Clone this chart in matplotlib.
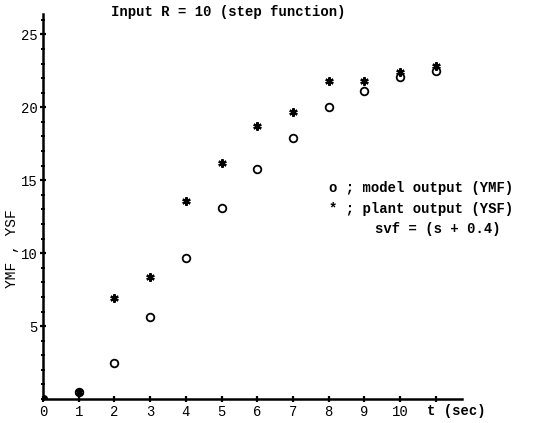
import matplotlib.pyplot as plt
from matplotlib.ticker import MultipleLocator

t = [0, 1, 2, 3, 4, 5, 6, 7, 8, 9, 10, 11]
ymf = [0.0, 0.5, 2.5, 5.6, 9.7, 13.1, 15.8, 17.9, 20.05, 21.1, 22.1, 22.5]
ysf = [0.0, 0.5, 6.9, 8.4, 13.6, 16.2, 18.7, 19.7, 21.8, 21.8, 22.45, 22.8]
xtick_labels = ["0", "1", "2", "3", "4", "5", "6", "7", "8", "9", "10", ""]
yticks = [5, 10, 15, 20, 25]

mono = "Liberation Mono"

fig = plt.figure(figsize=(5.35, 4.23), dpi=100)
ax = fig.add_axes([43 / 535, 24 / 423, 419 / 535, 385 / 423])

ax.plot(t, ymf, linestyle="none", marker="o", markersize=5.5,
        markerfacecolor="white", markeredgecolor="black", markeredgewidth=1.3)
ax.plot(t, ysf, linestyle="none", marker=(6, 2, 0), markersize=6,
        color="black", markeredgewidth=1.6)

ax.set_xlim(0, 11.73)
ax.set_ylim(0, 26.4)
for s in ["top", "right"]:
    ax.spines[s].set_visible(False)
for s in ["left", "bottom"]:
    ax.spines[s].set_linewidth(1.8)

ax.set_xticks(t)
ax.set_xticklabels(xtick_labels, fontfamily=mono, fontsize=10)
ax.set_yticks(yticks)
ax.set_yticklabels([str(v) for v in yticks], fontfamily=mono, fontsize=10)
ax.yaxis.set_minor_locator(MultipleLocator(1))
ax.tick_params(axis="both", which="major", direction="inout", length=4,
               width=1.6, pad=2)
ax.tick_params(axis="y", which="minor", direction="inout", length=3, width=1.4)

ax.text(10.75, -0.35, "t (sec)", fontfamily=mono, fontsize=10,
        fontweight="bold", ha="left", va="top")
ax.set_ylabel("YMF , YSF", fontfamily=mono, fontsize=10.5, labelpad=2)
ax.yaxis.set_label_coords(-0.058, 0.39)

fig.text(0.426, 0.972, "Input R = 10 (step function)", fontfamily=mono,
         fontsize=10, fontweight="bold", ha="center", va="center")

ax.text(8.0, 14.5, "o ; model output (YMF)", fontfamily=mono, fontsize=10,
        fontweight="bold", va="center")
ax.text(8.0, 13.05, "* ; plant output (YSF)", fontfamily=mono, fontsize=10,
        fontweight="bold", va="center")
ax.text(9.3, 11.65, "svf = (s + 0.4)", fontfamily=mono, fontsize=10,
        fontweight="bold", va="center")

fig.savefig("out.png", dpi=100)
